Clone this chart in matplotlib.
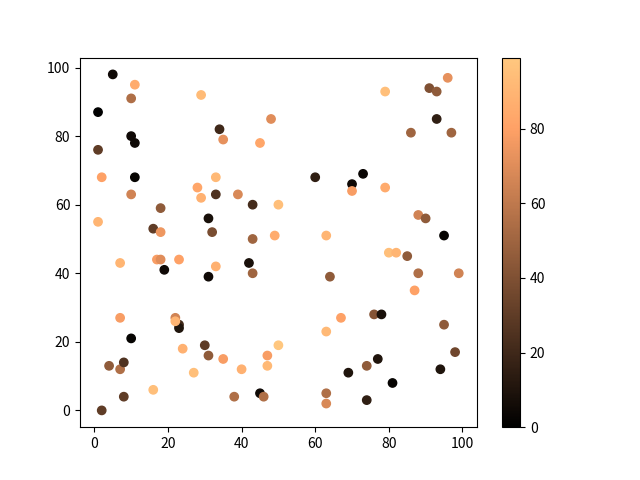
import numpy as np
import matplotlib.pyplot as plt

plt.rcParams['font.family'] = 'sans-serif'
plt.rcParams['font.sans-serif'] = ['Noto Sans CJK SC', 'DejaVu Sans']

# 点的坐标和颜色值
xs = [1, 5, 11, 10, 1, 10, 11, 2, 11, 10, 1, 18, 16, 18,
      29, 34, 35, 45, 48, 33, 28, 29, 33, 39, 43, 50, 31, 32, 49,
      60, 70, 73, 70, 79, 91, 93, 96, 93, 86, 97, 79,
      63, 88, 90, 95, 80, 82, 85, 88, 99, 87, 64,
      76, 78, 67, 63, 95, 98, 74, 77, 94, 69, 81, 63, 63, 74,
      7, 17, 18, 19, 23, 33, 31, 42, 43, 43,
      7, 10, 22, 23, 23, 22, 24, 30, 31, 35,
      4, 7, 8, 8, 2, 16, 27, 40, 38, 45, 46, 47, 47, 50]
ys = [87, 98, 95, 91, 76, 80, 78, 68, 68, 63, 55, 59, 53, 52,
      92, 82, 79, 78, 85, 68, 65, 62, 63, 63, 60, 60, 56, 52, 51,
      68, 66, 69, 64, 93, 94, 93, 97, 85, 81, 81, 65,
      51, 57, 56, 51, 46, 46, 45, 40, 40, 35, 39,
      28, 28, 27, 23, 25, 17, 13, 15, 12, 11, 8, 5, 2, 3,
      43, 44, 44, 41, 44, 42, 39, 43, 50, 40,
      27, 21, 27, 25, 24, 26, 18, 19, 16, 15,
      13, 12, 14, 4, 0, 6, 11, 12, 4, 5, 4, 16, 13, 19]
cs = [0, 5, 85, 55, 30, 5, 5, 80, 2, 65, 90, 45, 30, 75,
      93, 20, 72, 82, 70, 92, 82, 88, 25, 68, 22, 95, 8, 38, 85,
      15, 5, 3, 78, 95, 40, 45, 72, 15, 50, 50, 85,
      90, 65, 45, 2, 95, 90, 45, 55, 65, 80, 45,
      42, 8, 80, 92, 45, 35, 45, 10, 10, 10, 2, 55, 68, 15,
      90, 78, 70, 5, 80, 88, 5, 8, 50, 50,
      78, 2, 65, 20, 10, 90, 88, 30, 45, 78,
      45, 55, 25, 30, 30, 95, 95, 88, 55, 5, 55, 78, 92, 99]

fig, ax = plt.subplots()
sc = ax.scatter(xs, ys, c=cs, cmap='copper')
fig.colorbar(sc)
fig.savefig('out.png')
